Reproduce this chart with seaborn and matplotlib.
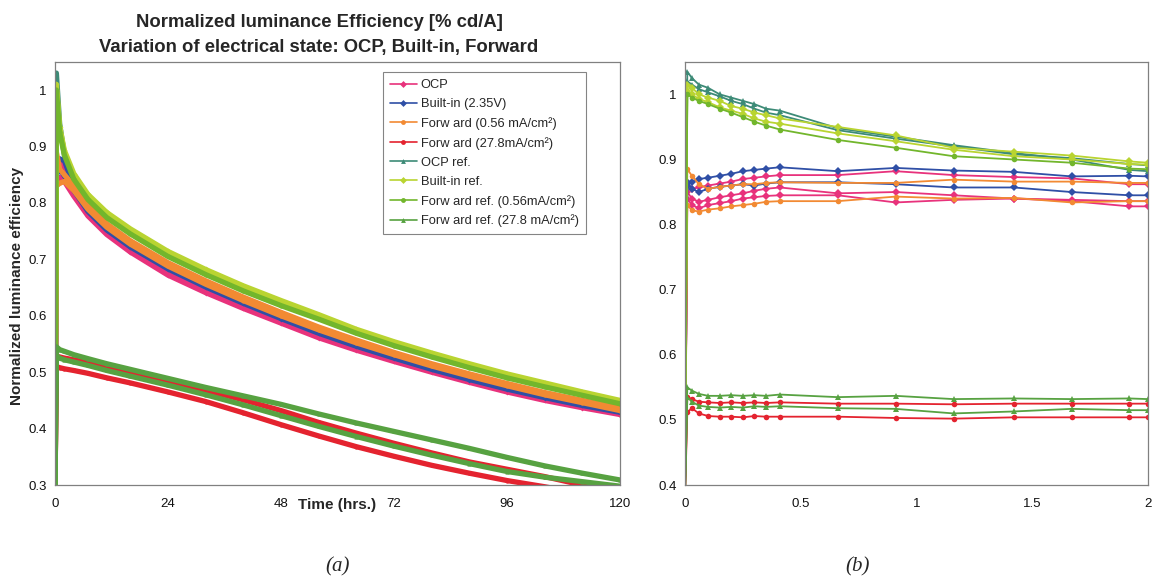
import matplotlib
matplotlib.use("Agg")
import matplotlib.pyplot as plt
import seaborn as sns
from matplotlib.lines import Line2D
from matplotlib.ticker import FuncFormatter

# ---------------- data: panel (a), time in hours ----------------
T_A = [0, 0.3, 1, 2, 4, 7, 11, 16, 24, 32, 40, 48, 56, 64, 72, 80, 88, 96, 104, 112, 120]

a_ocp_1 = [0.29, 0.86, 0.876, 0.86, 0.818, 0.781, 0.748, 0.716, 0.675, 0.644, 0.616, 0.589, 0.563, 0.541, 0.521, 0.502, 0.484, 0.467, 0.452, 0.439, 0.427]
a_ocp_2 = [0.29, 0.83, 0.845, 0.838, 0.812, 0.777, 0.744, 0.713, 0.672, 0.641, 0.613, 0.587, 0.561, 0.539, 0.519, 0.500, 0.482, 0.465, 0.450, 0.437, 0.425]
a_bi_1 = [0.29, 0.87, 0.878, 0.875, 0.830, 0.790, 0.757, 0.726, 0.686, 0.653, 0.624, 0.597, 0.571, 0.548, 0.527, 0.507, 0.489, 0.472, 0.457, 0.443, 0.430]
a_bi_2 = [0.29, 0.85, 0.860, 0.848, 0.822, 0.785, 0.752, 0.722, 0.683, 0.651, 0.622, 0.595, 0.569, 0.546, 0.525, 0.505, 0.487, 0.470, 0.455, 0.441, 0.429]
a_fw056_1 = [0.29, 0.89, 0.860, 0.850, 0.830, 0.795, 0.763, 0.733, 0.694, 0.662, 0.633, 0.606, 0.580, 0.557, 0.535, 0.515, 0.497, 0.480, 0.464, 0.450, 0.437]
a_fw056_2 = [0.29, 0.83, 0.835, 0.838, 0.822, 0.789, 0.757, 0.727, 0.688, 0.656, 0.627, 0.600, 0.575, 0.552, 0.531, 0.511, 0.493, 0.476, 0.460, 0.446, 0.432]
a_fw278_1 = [0.29, 0.528, 0.527, 0.525, 0.522, 0.517, 0.510, 0.500, 0.484, 0.468, 0.451, 0.432, 0.411, 0.392, 0.374, 0.357, 0.341, 0.328, 0.315, 0.300, 0.286]
a_fw278_2 = [0.29, 0.510, 0.508, 0.506, 0.503, 0.498, 0.490, 0.481, 0.465, 0.448, 0.428, 0.407, 0.387, 0.368, 0.351, 0.335, 0.321, 0.308, 0.297, 0.285, 0.273]
a_ocpref_1 = [0.29, 1.030, 0.940, 0.885, 0.848, 0.812, 0.780, 0.752, 0.712, 0.680, 0.651, 0.625, 0.600, 0.574, 0.552, 0.532, 0.513, 0.495, 0.479, 0.463, 0.448]
a_biref_1 = [0.29, 1.010, 0.935, 0.893, 0.852, 0.815, 0.783, 0.754, 0.714, 0.682, 0.653, 0.627, 0.602, 0.576, 0.554, 0.534, 0.515, 0.497, 0.481, 0.465, 0.450]
a_biref_2 = [0.29, 1.000, 0.930, 0.890, 0.846, 0.810, 0.778, 0.749, 0.708, 0.676, 0.647, 0.621, 0.597, 0.571, 0.549, 0.529, 0.510, 0.493, 0.477, 0.461, 0.446]
a_fwref056_1 = [0.29, 1.000, 0.925, 0.885, 0.842, 0.806, 0.774, 0.745, 0.705, 0.673, 0.644, 0.618, 0.594, 0.569, 0.547, 0.527, 0.508, 0.490, 0.474, 0.459, 0.444]
a_fwref278_1 = [0.29, 0.545, 0.540, 0.537, 0.531, 0.524, 0.515, 0.505, 0.489, 0.473, 0.458, 0.443, 0.426, 0.410, 0.395, 0.380, 0.365, 0.349, 0.334, 0.321, 0.309]
a_fwref278_2 = [0.29, 0.530, 0.525, 0.522, 0.518, 0.512, 0.503, 0.493, 0.477, 0.460, 0.442, 0.423, 0.404, 0.386, 0.369, 0.353, 0.338, 0.324, 0.314, 0.306, 0.298]

# ---------------- data: panel (b), first two hours ----------------
T_B = [0, 0.01, 0.03, 0.06, 0.1, 0.15, 0.2, 0.25, 0.3, 0.35, 0.41, 0.66, 0.91, 1.16, 1.42, 1.67, 1.92, 2.0]

b_ocp_1 = [0.38, 0.860, 0.855, 0.857, 0.860, 0.863, 0.866, 0.870, 0.872, 0.874, 0.876, 0.876, 0.882, 0.876, 0.873, 0.871, 0.862, 0.862]
b_ocp_2 = [0.38, 0.850, 0.840, 0.835, 0.838, 0.842, 0.845, 0.848, 0.852, 0.855, 0.857, 0.848, 0.850, 0.845, 0.840, 0.838, 0.836, 0.836]
b_ocp_3 = [0.38, 0.840, 0.830, 0.825, 0.830, 0.833, 0.836, 0.840, 0.842, 0.844, 0.845, 0.845, 0.834, 0.838, 0.840, 0.836, 0.828, 0.828]
b_bi_1 = [0.38, 0.860, 0.865, 0.870, 0.872, 0.875, 0.878, 0.882, 0.884, 0.886, 0.888, 0.882, 0.887, 0.883, 0.881, 0.874, 0.875, 0.874]
b_bi_2 = [0.38, 0.865, 0.855, 0.850, 0.855, 0.858, 0.860, 0.862, 0.860, 0.863, 0.865, 0.865, 0.862, 0.857, 0.857, 0.850, 0.845, 0.845]
b_fw056_1 = [0.38, 0.885, 0.875, 0.862, 0.855, 0.858, 0.860, 0.862, 0.862, 0.864, 0.865, 0.864, 0.864, 0.869, 0.866, 0.866, 0.864, 0.864]
b_fw056_2 = [0.38, 0.830, 0.822, 0.820, 0.823, 0.825, 0.828, 0.830, 0.832, 0.835, 0.836, 0.836, 0.843, 0.840, 0.841, 0.834, 0.836, 0.836]
b_fw278_1 = [0.38, 0.535, 0.532, 0.528, 0.527, 0.526, 0.527, 0.526, 0.527, 0.526, 0.527, 0.525, 0.525, 0.524, 0.525, 0.525, 0.525, 0.525]
b_fw278_2 = [0.38, 0.512, 0.518, 0.510, 0.506, 0.505, 0.505, 0.504, 0.506, 0.505, 0.505, 0.505, 0.503, 0.502, 0.504, 0.504, 0.504, 0.504]
b_ocpref_1 = [0.38, 1.035, 1.025, 1.015, 1.010, 1.000, 0.995, 0.990, 0.985, 0.978, 0.975, 0.948, 0.935, 0.922, 0.910, 0.900, 0.884, 0.882]
b_ocpref_2 = [0.38, 1.020, 1.015, 1.008, 1.003, 0.997, 0.990, 0.985, 0.978, 0.972, 0.968, 0.945, 0.932, 0.920, 0.908, 0.902, 0.893, 0.891]
b_biref_1 = [0.38, 1.015, 1.010, 1.000, 0.995, 0.990, 0.982, 0.978, 0.972, 0.968, 0.963, 0.950, 0.937, 0.918, 0.912, 0.906, 0.897, 0.895]
b_biref_2 = [0.38, 1.005, 1.000, 0.993, 0.988, 0.980, 0.975, 0.970, 0.963, 0.958, 0.955, 0.940, 0.928, 0.915, 0.905, 0.900, 0.893, 0.892]
b_fwref056_1 = [0.38, 1.000, 0.995, 0.990, 0.985, 0.978, 0.972, 0.965, 0.958, 0.952, 0.946, 0.930, 0.918, 0.905, 0.900, 0.895, 0.886, 0.885]
b_fwref278_1 = [0.38, 0.550, 0.545, 0.540, 0.537, 0.537, 0.538, 0.537, 0.538, 0.537, 0.539, 0.535, 0.537, 0.532, 0.533, 0.532, 0.533, 0.532]
b_fwref278_2 = [0.38, 0.535, 0.528, 0.522, 0.520, 0.519, 0.520, 0.519, 0.521, 0.520, 0.521, 0.518, 0.517, 0.510, 0.513, 0.517, 0.515, 0.515]

# ---------------- series labels / styles ----------------
labels = ["OCP", "Built-in (2.35V)", "Forw ard (0.56 mA/cm²)", "Forw ard (27.8mA/cm²)",
          "OCP ref.", "Built-in ref.", "Forw ard ref. (0.56mA/cm²)", "Forw ard ref. (27.8 mA/cm²)"]
colors = ["#e8327c", "#2f4fa6", "#f28a33", "#e4232f", "#3d8b77", "#b9d431", "#72b62c", "#57a241"]
markers = ["D", "D", "o", "o", "^", "D", "o", "^"]

curves_a = [[a_ocp_1, a_ocp_2], [a_bi_1, a_bi_2], [a_fw056_1, a_fw056_2], [a_fw278_1, a_fw278_2],
            [a_ocpref_1], [a_biref_1, a_biref_2], [a_fwref056_1], [a_fwref278_1, a_fwref278_2]]
curves_b = [[b_ocp_1, b_ocp_2, b_ocp_3], [b_bi_1, b_bi_2], [b_fw056_1, b_fw056_2], [b_fw278_1, b_fw278_2],
            [b_ocpref_1, b_ocpref_2], [b_biref_1, b_biref_2], [b_fwref056_1], [b_fwref278_1, b_fwref278_2]]

sns.set_style("white")
plt.rcParams["font.family"] = ["Liberation Sans", "DejaVu Sans"]

fig = plt.figure(figsize=(11.52, 5.83), dpi=100)
axA = fig.add_axes([0.0477, 0.168, 0.4905, 0.726])
axB = fig.add_axes([0.5946, 0.168, 0.4019, 0.726])

for group, c, m in zip(curves_a, colors, markers):
    for ys in group:
        sns.lineplot(x=T_A, y=ys, ax=axA, color=c, lw=3.8, marker=m, markersize=3,
                     markeredgewidth=0, estimator=None, sort=False, legend=False)
for group, c, m in zip(curves_b, colors, markers):
    for ys in group:
        sns.lineplot(x=T_B, y=ys, ax=axB, color=c, lw=1.3, marker=m, markersize=4,
                     markeredgewidth=0, estimator=None, sort=False, legend=False)

fmt = FuncFormatter(lambda v, p: f"{v:g}")
axA.set_xlim(0, 120)
axA.set_ylim(0.3, 1.05)
axA.set_xticks([0, 24, 48, 72, 96, 120])
axA.set_yticks([0.3, 0.4, 0.5, 0.6, 0.7, 0.8, 0.9, 1.0])
axB.set_xlim(0, 2)
axB.set_ylim(0.4, 1.05)
axB.set_xticks([0, 0.5, 1, 1.5, 2])
axB.set_yticks([0.4, 0.5, 0.6, 0.7, 0.8, 0.9, 1.0])

for ax in (axA, axB):
    ax.xaxis.set_major_formatter(fmt)
    ax.yaxis.set_major_formatter(fmt)
    for s in ax.spines.values():
        s.set_visible(True)
        s.set_color("#808080")
        s.set_linewidth(0.9)
    ax.tick_params(axis="both", direction="out", length=3, width=0.8, color="#808080",
                   labelsize=9.5, labelcolor="#111111")
    ax.tick_params(axis="x", pad=6)
    ax.tick_params(axis="y", pad=3)
    ax.set_xlabel("")
    ax.set_ylabel("")

axA.set_xlabel("Time (hrs.)", fontweight="bold", fontsize=11)
axA.xaxis.set_label_coords(0.5, -0.047)
axA.xaxis.label.set_va("center")
axA.set_ylabel("Normalized luminance efficiency", fontweight="bold", fontsize=11)
axA.yaxis.set_label_coords(-0.067, 0.47)
axA.yaxis.label.set_va("center")

handles = [Line2D([], [], color=c, marker=m, lw=1.2, markersize=3.5, markeredgewidth=0)
           for c, m in zip(colors, markers)]
leg = axA.legend(handles, labels, loc="upper left", bbox_to_anchor=(0.58, 0.976),
                 frameon=True, fancybox=False, edgecolor="#666666", fontsize=9.3,
                 handlelength=2.1, labelspacing=0.54, borderpad=0.55, handletextpad=0.3,
                 borderaxespad=0)
leg.get_frame().set_linewidth(0.8)

fig.text(0.277, 0.961, "Normalized luminance Efficiency [% cd/A]", ha="center", va="center",
         fontweight="bold", fontsize=13.3)
fig.text(0.277, 0.918, "Variation of electrical state: OCP, Built-in, Forward", ha="center",
         va="center", fontweight="bold", fontsize=13.3)
fig.text(0.293, 0.027, "(a)", ha="center", va="center", fontsize=15, fontstyle="italic",
         family=["Liberation Serif", "DejaVu Serif"])
fig.text(0.744, 0.027, "(b)", ha="center", va="center", fontsize=15, fontstyle="italic",
         family=["Liberation Serif", "DejaVu Serif"])

fig.savefig("out.png", dpi=100)
